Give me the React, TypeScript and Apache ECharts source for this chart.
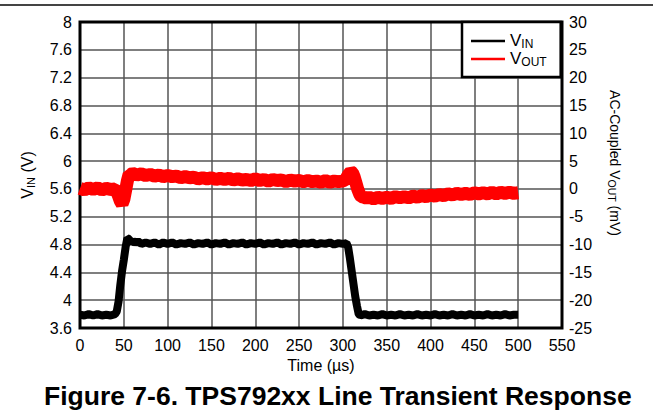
import React, { useEffect, useRef } from "react";
import * as echarts from "echarts";

// ---------- data ----------
const xTicks = [0, 50, 100, 150, 200, 250, 300, 350, 400, 450, 500, 550];

const vinTime = [
  0, 5, 10, 15, 20, 25, 30, 35, 40, 42, 44, 46, 48, 50, 52, 54, 56, 58, 60, 63, 66, 70, 75, 80, 85, 90,
  95, 100, 105, 110, 115, 120, 125, 130, 135, 140, 145, 150, 155, 160, 165, 170, 175, 180, 185, 190,
  195, 200, 205, 210, 215, 220, 225, 230, 235, 240, 245, 250, 255, 260, 265, 270, 275, 280, 285, 290,
  295, 300, 304, 306, 308, 310, 312, 314, 316, 318, 320, 325, 330, 335, 340, 345, 350, 355, 360, 365,
  370, 375, 380, 385, 390, 395, 400, 405, 410, 415, 420, 425, 430, 435, 440, 445, 450, 455, 460, 465,
  470, 475, 480, 485, 490, 495, 500,
];
const vinValues = [
  3.79, 3.78, 3.8, 3.78, 3.8, 3.78, 3.79, 3.78, 3.8, 3.84, 3.98, 4.22, 4.42, 4.58, 4.76, 4.89, 4.88,
  4.82, 4.86, 4.82, 4.85, 4.81, 4.83, 4.81, 4.83, 4.8, 4.83, 4.81, 4.83, 4.8, 4.82, 4.81, 4.83, 4.8,
  4.82, 4.81, 4.83, 4.8, 4.82, 4.81, 4.83, 4.8, 4.82, 4.81, 4.83, 4.8, 4.82, 4.81, 4.83, 4.8, 4.82,
  4.81, 4.83, 4.8, 4.82, 4.81, 4.83, 4.8, 4.82, 4.81, 4.83, 4.8, 4.82, 4.81, 4.83, 4.8, 4.82, 4.81,
  4.82, 4.76, 4.6, 4.42, 4.24, 4.06, 3.92, 3.8, 3.78, 3.8, 3.78, 3.79, 3.78, 3.8, 3.78, 3.79, 3.78,
  3.8, 3.78, 3.79, 3.78, 3.8, 3.78, 3.79, 3.78, 3.8, 3.78, 3.79, 3.78, 3.8, 3.78, 3.79, 3.78, 3.8,
  3.78, 3.79, 3.78, 3.8, 3.78, 3.79, 3.78, 3.8, 3.78, 3.79, 3.79,
];

const voutTime = [
  0, 5, 10, 15, 20, 25, 30, 35, 40, 42, 44, 46, 48, 50, 52, 54, 56, 58, 60, 65, 70, 75, 80, 85, 90, 95,
  100, 105, 110, 115, 120, 125, 130, 135, 140, 145, 150, 155, 160, 165, 170, 175, 180, 185, 190, 195,
  200, 205, 210, 215, 220, 225, 230, 235, 240, 245, 250, 255, 260, 265, 270, 275, 280, 285, 290, 295,
  300, 303, 306, 309, 311, 313, 315, 317, 319, 321, 324, 327, 330, 335, 340, 345, 350, 355, 360, 365,
  370, 375, 380, 385, 390, 395, 400, 405, 410, 415, 420, 425, 430, 435, 440, 445, 450, 455, 460, 465,
  470, 475, 480, 485, 490, 495, 500,
];
const voutValues = [
  0.1, -0.2, 0.2, -0.1, 0.2, -0.2, 0.1, -0.1, 0.0, -0.5, -1.3, -2.2, -2.7, -1.9, -0.3, 1.4, 2.6, 2.6,
  2.8, 2.5, 2.7, 2.4, 2.6, 2.3, 2.5, 2.2, 2.4, 2.2, 2.3, 2.0, 2.2, 2.0, 2.1, 1.8, 2.0, 1.8, 2.0, 1.7,
  1.9, 1.7, 1.9, 1.6, 1.8, 1.6, 1.7, 1.5, 1.8, 1.5, 1.7, 1.4, 1.7, 1.5, 1.6, 1.3, 1.6, 1.4, 1.5, 1.3,
  1.5, 1.3, 1.4, 1.2, 1.5, 1.2, 1.4, 1.3, 1.4, 1.7, 2.5, 3.1, 2.9, 2.1, 1.0, -0.1, -0.9, -1.4, -1.5,
  -1.7, -1.5, -1.8, -1.5, -1.7, -1.5, -1.7, -1.4, -1.6, -1.4, -1.6, -1.3, -1.5, -1.2, -1.4, -1.1,
  -1.3, -1.0, -1.2, -0.9, -1.1, -0.8, -1.0, -0.8, -1.0, -0.7, -0.9, -0.7, -0.9, -0.6, -0.9, -0.6,
  -0.8, -0.6, -0.8, -0.7,
];

const FONT = "'Liberation Sans', Arial, Helvetica, sans-serif";

export default function App() {
  const ref = useRef<HTMLDivElement>(null);
  useEffect(() => {
    if (!ref.current) return;
    const chart = echarts.init(ref.current, undefined, { renderer: "svg" });
    const vinData = vinTime.map((t, i) => [t, vinValues[i]]);
    const voutData = voutTime.map((t, i) => [t, voutValues[i]]);
    const rich = {
      m: { fontSize: 17, lineHeight: 18, fontFamily: FONT, color: "#000", verticalAlign: "top" },
      s: {
        fontSize: 12,
        lineHeight: 12,
        fontFamily: FONT,
        color: "#000",
        verticalAlign: "top",
        padding: [6, 0, 0, 0],
      },
    };
    chart.setOption({
      animation: false,
      backgroundColor: "#fff",
      textStyle: { fontFamily: FONT },
      title: {
        text: "Figure 7-6. TPS792xx Line Transient Response",
        left: 44,
        top: 382,
        padding: 0,
        textStyle: { fontFamily: FONT, fontSize: 26.5, fontWeight: "bold", color: "#000" },
      },
      graphic: [
        {
          type: "line",
          shape: { x1: 0, y1: 5, x2: 653, y2: 5 },
          style: { stroke: "#444", lineWidth: 2 },
          silent: true,
        },
      ],
      legend: {
        orient: "vertical",
        left: 462,
        top: 22,
        padding: [10, 14, 9, 9],
        itemGap: 0,
        itemWidth: 34,
        itemHeight: 2.5,
        selectedMode: false,
        backgroundColor: "#fff",
        borderColor: "#000",
        borderWidth: 2.5,
        z: 10,
        data: [
          { name: "VIN", icon: "rect" },
          { name: "VOUT", icon: "rect" },
        ],
        formatter: (name: string) =>
          name === "VIN" ? "{m|V}{s|IN}" : "{m|V}{s|OUT}",
        textStyle: { rich },
      },
      grid: {
        left: 80,
        right: 91,
        top: 22,
        bottom: 89,
        show: true,
        borderColor: "#000",
        borderWidth: 3,
        backgroundColor: "transparent",
        z: 3,
      },
      xAxis: {
        type: "value",
        min: 0,
        max: 550,
        interval: 50,
        name: "Time (\u00b5s)",
        nameLocation: "middle",
        nameGap: 26,
        nameTextStyle: { fontSize: 16, color: "#000", fontFamily: FONT },
        axisLine: { show: false },
        axisTick: { show: false },
        axisLabel: {
          fontSize: 16,
          color: "#000",
          margin: 9,
          formatter: (v: number) => (xTicks.includes(v) ? String(v) : ""),
        },
        splitLine: { show: true, lineStyle: { color: "#555", width: 1.5 } },
      },
      yAxis: [
        {
          type: "value",
          min: 3.6,
          max: 8,
          interval: 0.4,
          name: "{m|V}{s|IN}{m| (V)}",
          nameLocation: "middle",
          nameGap: 44,
          nameRotate: 90,
          nameTextStyle: {
            rich: {
              m: { fontSize: 16, lineHeight: 17, fontFamily: FONT, color: "#000", verticalAlign: "top" },
              s: { fontSize: 11, lineHeight: 11, fontFamily: FONT, color: "#000", verticalAlign: "top", padding: [6, 0, 0, 0] },
            },
          },
          axisLine: { show: false },
          axisTick: { show: false },
          axisLabel: {
            fontSize: 16,
            color: "#000",
            margin: 8,
            formatter: (v: number) => String(Math.round(v * 10) / 10),
          },
          splitLine: { show: true, lineStyle: { color: "#555", width: 1.5 } },
        },
        {
          type: "value",
          min: -25,
          max: 30,
          interval: 5,
          position: "right",
          name: "{m|AC-Coupled V}{s|OUT}{m| (mV)}",
          nameLocation: "middle",
          nameGap: 45,
          nameRotate: -90,
          nameTextStyle: {
            padding: [0, 24, 0, 0],
            rich: {
              m: { fontSize: 14, lineHeight: 15, fontFamily: FONT, color: "#000", verticalAlign: "top" },
              s: { fontSize: 10.5, lineHeight: 10.5, fontFamily: FONT, color: "#000", verticalAlign: "top", padding: [5, 0, 0, 0] },
            },
          },
          axisLine: { show: false },
          axisTick: { show: false },
          axisLabel: { fontSize: 16, color: "#000", margin: 7 },
          splitLine: { show: false },
        },
      ],
      series: [
        {
          name: "VIN",
          type: "line",
          yAxisIndex: 0,
          data: vinData,
          showSymbol: false,
          symbol: "none",
          color: "#000",
          lineStyle: { color: "#000", width: 8, join: "bevel" },
          z: 5,
        },
        {
          name: "VOUT",
          type: "line",
          yAxisIndex: 1,
          data: voutData,
          showSymbol: false,
          symbol: "none",
          color: "#ff0000",
          lineStyle: { color: "#ff0000", width: 13, join: "bevel" },
          z: 5,
        },
      ],
    });
    return () => chart.dispose();
  }, []);
  return (
    <div
      ref={ref}
      style={{ position: "fixed", left: 0, top: 0, width: 653, height: 417 }}
    />
  );
}
